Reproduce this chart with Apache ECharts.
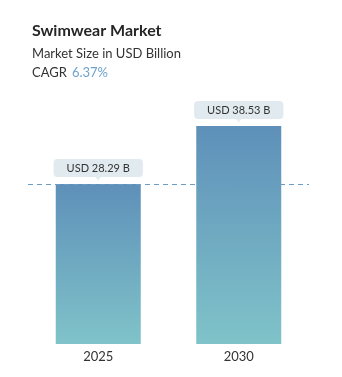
<!DOCTYPE html>
<html>
<head>
<meta charset="utf-8">
<script src="https://cdn.jsdelivr.net/npm/echarts@6/dist/echarts.min.js"></script>
<style>
html,body{margin:0;padding:0;background:#fff;}
#main{width:342px;height:377px;}
</style>
</head>
<body>
<div id="main"></div>
<script>
var categories = ['2025', '2030'];
var marketSize = [28.29, 38.53];
var labelTexts = ['USD 28.29 B', 'USD 38.53 B'];
var titleText = 'Swimwear Market';
var subtitleText = 'Market Size in USD Billion';
var cagrText = '6.37%';

var chart = echarts.init(document.getElementById('main'), null, {renderer: 'canvas'});
var FONT = 'Lato, "Open Sans", sans-serif';

chart.setOption({
  animation: false,
  backgroundColor: '#ffffff',
  title: [
    {text: titleText, left: 27, top: 18,
     textStyle: {fontFamily: FONT, fontSize: 16, fontWeight: 'bold', color: '#262626'}},
    {text: subtitleText, left: 27, top: 42,
     textStyle: {fontFamily: FONT, fontSize: 13, fontWeight: 'normal', color: '#333'}},
    {text: '{a|CAGR}{b|' + cagrText + '}', left: 27, top: 61,
     textStyle: {fontFamily: FONT, fontSize: 13, fontWeight: 'normal', color: '#333',
       rich: {a: {fontFamily: FONT, fontSize: 13, color: '#333'},
              b: {fontFamily: FONT, fontSize: 13, color: '#6ea3cc', padding: [0, 0, 0, 5]}}}}
  ],
  grid: {left: 28, right: 33, top: 89.5, bottom: 33, containLabel: false},
  xAxis: {
    type: 'category', data: categories,
    axisLine: {show: false}, axisTick: {show: false},
    axisLabel: {fontFamily: FONT, fontSize: 13, color: '#333', margin: 6}
  },
  yAxis: {type: 'value', min: 0, max: 45, show: false, splitLine: {show: false}},
  series: [
    {
      type: 'bar', barWidth: 85, data: marketSize,
      itemStyle: {
        color: new echarts.graphic.LinearGradient(0, 0, 0, 1, [
          {offset: 0, color: '#5e90b9'},
          {offset: 1, color: '#80c3c9'}
        ])
      },
      label: {
        show: true, position: 'top', distance: 7,
        formatter: function (p) { return labelTexts[p.dataIndex]; },
        fontFamily: FONT, fontSize: 11, color: '#333', lineHeight: 12,
        backgroundColor: '#e0eaef', borderRadius: 4, padding: [3, 13, 3, 13]
      },
      markLine: {
        silent: true, symbol: 'none', label: {show: false},
        lineStyle: {color: '#6a9cc4', type: [5, 4], width: 1},
        data: [{yAxis: marketSize[0]}]
      },
      z: 2
    },
    {
      type: 'scatter', data: marketSize, symbol: 'triangle', symbolRotate: 180,
      symbolSize: [8, 5], symbolOffset: [0, -6],
      itemStyle: {color: '#e0eaef'}, silent: true, z: 3
    }
  ]
});
</script>
</body>
</html>
